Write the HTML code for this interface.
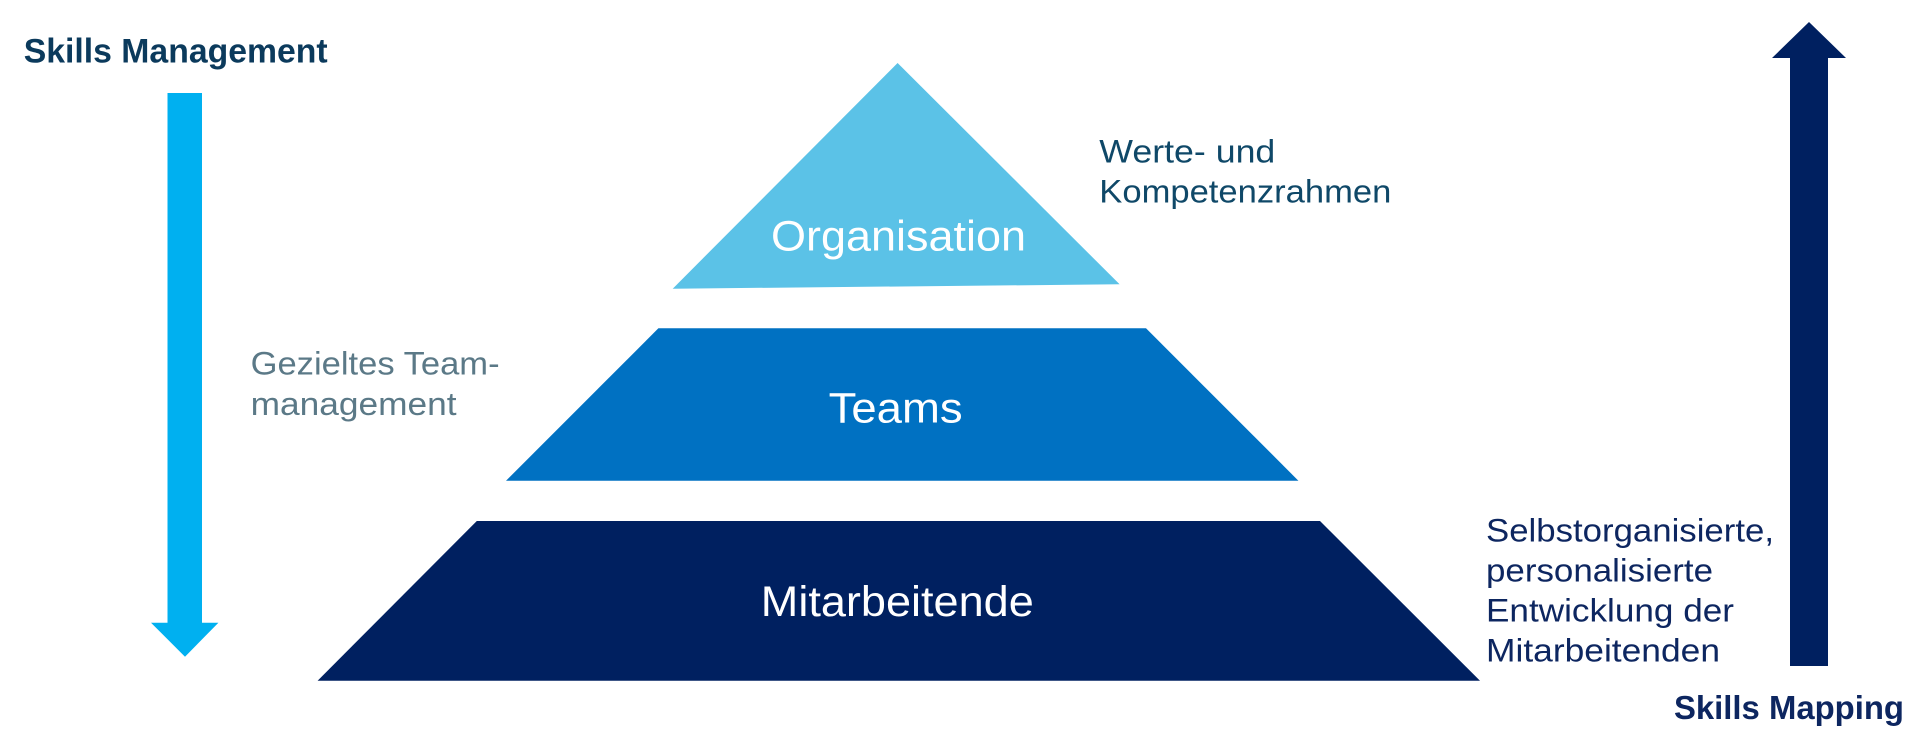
<!DOCTYPE html>
<html>
<head>
<meta charset="utf-8">
<style>
  html, body { margin:0; padding:0; background:#ffffff; }
  body { width:1920px; height:741px; overflow:hidden; }
  svg { display:block; }
  text { font-family: "Liberation Sans", "DejaVu Sans", sans-serif; }
</style>
</head>
<body>
<svg width="1920" height="741" viewBox="0 0 1920 741" xmlns="http://www.w3.org/2000/svg">
  <rect x="0" y="0" width="1920" height="741" fill="#ffffff"/>

  <!-- Left arrow (down) -->
  <polygon points="167.5,93 202,93 202,622.7 218.4,622.7 185,656.7 151,622.7 167.5,622.7" fill="#00b0f0"/>

  <!-- Right arrow (up) -->
  <polygon points="1790,666 1790,58 1772,58 1809,22 1846,58 1828,58 1828,666" fill="#002060"/>

  <!-- Organisation triangle -->
  <polygon points="897.6,63 1119.6,284.3 672.7,288.7" fill="#5bc2e7"/>

  <!-- Teams trapezoid -->
  <polygon points="658.4,328.3 1146,328.3 1298.4,480.7 506,480.7" fill="#0071c2"/>

  <!-- Mitarbeitende trapezoid -->
  <polygon points="476.8,521 1320,521 1480,680.7 317.6,680.7" fill="#002060"/>

  <!-- Headings -->
  <text x="23.7" y="62.7" font-size="34" font-weight="bold" fill="#0b3a5c" textLength="304" lengthAdjust="spacingAndGlyphs">Skills Management</text>
  <text x="1674" y="719" font-size="33" font-weight="bold" fill="#0d2660" textLength="230" lengthAdjust="spacingAndGlyphs">Skills Mapping</text>

  <!-- Pyramid labels -->
  <text x="771" y="250.7" font-size="43" fill="#ffffff" textLength="255" lengthAdjust="spacingAndGlyphs">Organisation</text>
  <text x="828.6" y="422.3" font-size="43" fill="#ffffff" textLength="134" lengthAdjust="spacingAndGlyphs">Teams</text>
  <text x="760.8" y="616" font-size="43" fill="#ffffff" textLength="273" lengthAdjust="spacingAndGlyphs">Mitarbeitende</text>

  <!-- Side annotations -->
  <text x="1099.3" y="162.7" font-size="32" fill="#0f4868" textLength="176" lengthAdjust="spacingAndGlyphs">Werte- und</text>
  <text x="1099.3" y="202.7" font-size="32" fill="#0f4868" textLength="292" lengthAdjust="spacingAndGlyphs">Kompetenzrahmen</text>

  <text x="250.6" y="374.3" font-size="32" fill="#5b7987" textLength="249" lengthAdjust="spacingAndGlyphs">Gezieltes Team-</text>
  <text x="250.6" y="415" font-size="32" fill="#5b7987" textLength="206" lengthAdjust="spacingAndGlyphs">management</text>

  <text x="1486" y="541.7" font-size="32" fill="#0d2660" textLength="288" lengthAdjust="spacingAndGlyphs">Selbstorganisierte,</text>
  <text x="1486" y="581.7" font-size="32" fill="#0d2660" textLength="227" lengthAdjust="spacingAndGlyphs">personalisierte</text>
  <text x="1486" y="621.7" font-size="32" fill="#0d2660" textLength="248" lengthAdjust="spacingAndGlyphs">Entwicklung der</text>
  <text x="1486" y="661.7" font-size="32" fill="#0d2660" textLength="234" lengthAdjust="spacingAndGlyphs">Mitarbeitenden</text>
</svg>
</body>
</html>
